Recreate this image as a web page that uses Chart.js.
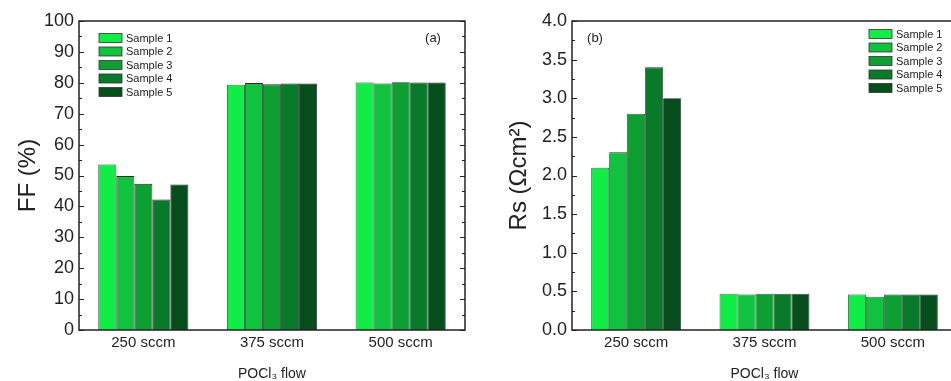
<!DOCTYPE html>
<html lang="en">
<head>
    <meta charset="UTF-8">
    <title>FF and Rs vs POCl3 flow</title>
    <script src="https://cdn.jsdelivr.net/npm/chart.js"></script>
    <style>
        html, body { margin: 0; padding: 0; background: #fff; overflow: hidden; }
        .panel { position: absolute; top: 0; height: 381px; }
        #panelA { left: 0; width: 475px; }
        #panelB { left: 476px; width: 490px; }
    </style>
</head>
<body>
    <div class="panel" id="panelA"><canvas id="chartFF"></canvas></div>
    <div class="panel" id="panelB"><canvas id="chartRs"></canvas></div>

    <script>
        // Data
        const flows = ['250 sccm', '375 sccm', '500 sccm'];
        const samples = ['Sample 1', 'Sample 2', 'Sample 3', 'Sample 4', 'Sample 5'];
        const sampleColors = ['#10ee45', '#10c23e', '#0e9f32', '#087a2a', '#064f1c'];

        // FF (%) per sample, one value per flow
        const ffSample1 = [53.6, 79.4, 80.1];
        const ffSample2 = [49.8, 79.9, 79.8];
        const ffSample3 = [47.3, 79.5, 80.2];
        const ffSample4 = [42.2, 79.8, 80.1];
        const ffSample5 = [47.1, 79.8, 80.1];

        // Rs (Ohm cm2) per sample
        const rsSample1 = [2.10, 0.47, 0.46];
        const rsSample2 = [2.30, 0.46, 0.43];
        const rsSample3 = [2.80, 0.47, 0.46];
        const rsSample4 = [3.40, 0.47, 0.46];
        const rsSample5 = [3.00, 0.47, 0.46];

        const FONT = "'Liberation Sans', Arial, sans-serif";

        function makeDatasets(series) {
            return series.map((vals, i) => ({
                label: samples[i],
                data: vals,
                backgroundColor: sampleColors[i],
                borderColor: '#2a2a2a',
                borderWidth: 0.8,
                borderSkipped: 'bottom',
                barPercentage: 1.0,
                categoryPercentage: 0.70
            }));
        }

        // frame, inward ticks on both sides, inside legend and panel tag
        const framePlugin = {
            id: 'frame',
            afterDraw(chart, args, opts) {
                const ctx = chart.ctx;
                const a = chart.chartArea;
                const y = chart.scales.y;
                ctx.save();
                ctx.strokeStyle = '#222';
                ctx.lineWidth = 1.5;
                ctx.strokeRect(a.left, a.top, a.right - a.left, a.bottom - a.top);

                ctx.lineWidth = 1;
                const steps = Math.round((y.max - y.min) / opts.minorStep);
                for (let k = 0; k <= steps; k++) {
                    const v = y.min + k * opts.minorStep;
                    const py = Math.round(y.getPixelForValue(v)) + 0.5;
                    const len = (k % 2 === 0) ? 5 : 3;
                    ctx.beginPath();
                    ctx.moveTo(a.left, py); ctx.lineTo(a.left + len, py);
                    ctx.moveTo(a.right, py); ctx.lineTo(a.right - len, py);
                    ctx.stroke();
                }

                // legend drawn inside the plot
                ctx.font = '11px ' + FONT;
                ctx.textBaseline = 'middle';
                ctx.textAlign = 'left';
                chart.data.datasets.forEach((ds, i) => {
                    const ly = a.top + opts.legendY + i * 13.5;
                    const lx = a.left + opts.legendX;
                    ctx.fillStyle = ds.backgroundColor;
                    ctx.fillRect(lx, ly - 4.5, 23, 9);
                    ctx.strokeStyle = '#333';
                    ctx.lineWidth = 0.8;
                    ctx.strokeRect(lx, ly - 4.5, 23, 9);
                    ctx.fillStyle = '#222';
                    ctx.fillText(ds.label, lx + 27, ly + 0.5);
                });

                ctx.font = '13px ' + FONT;
                ctx.textAlign = 'center';
                ctx.fillStyle = '#222';
                ctx.fillText(opts.tag, a.left + opts.tagX, a.top + 17);
                ctx.restore();
            }
        };

        function makeChart(id, series, yOpts, frameOpts) {
            return new Chart(document.getElementById(id), {
                type: 'bar',
                data: { labels: flows, datasets: makeDatasets(series) },
                options: {
                    responsive: true,
                    maintainAspectRatio: false,
                    animation: false,
                    layout: { padding: { top: 21, right: frameOpts.padRight, left: 0, bottom: 0 } },
                    plugins: {
                        legend: { display: false },
                        tooltip: { enabled: false },
                        frame: frameOpts
                    },
                    scales: {
                        x: {
                            grid: { display: false, drawTicks: false },
                            border: { display: false },
                            ticks: { color: '#222', font: { family: FONT, size: 15 }, padding: 4 },
                            title: {
                                display: true,
                                text: 'POCl\u2083 flow',
                                color: '#222',
                                font: { family: FONT, size: 14 },
                                padding: { top: 0, bottom: -2 }
                            },
                            afterFit(scale) { scale.height = 51; }
                        },
                        y: {
                            min: 0,
                            max: yOpts.max,
                            grid: { display: false, drawTicks: false },
                            border: { display: false },
                            ticks: {
                                stepSize: yOpts.step,
                                color: '#222',
                                padding: 5,
                                font: { family: FONT, size: 18 },
                                callback: yOpts.fmt
                            },
                            title: {
                                display: true,
                                text: yOpts.title,
                                color: '#222',
                                font: { family: FONT, size: 24 },
                                padding: { top: yOpts.titlePad, bottom: 0 }
                            },
                            afterFit(scale) { scale.width = yOpts.width; }
                        }
                    }
                },
                plugins: [framePlugin]
            });
        }

        makeChart('chartFF',
            [ffSample1, ffSample2, ffSample3, ffSample4, ffSample5],
            { max: 100, step: 10, title: 'FF (%)', titlePad: 14, width: 79, fmt: v => v },
            { minorStep: 5, legendX: 20, legendY: 17, tag: '(a)', tagX: 354, padRight: 10 });

        makeChart('chartRs',
            [rsSample1, rsSample2, rsSample3, rsSample4, rsSample5],
            { max: 4, step: 0.5, title: 'Rs (\u03A9cm\u00B2)', titlePad: 29, width: 96, fmt: v => v.toFixed(1) },
            { minorStep: 0.25, legendX: 297, legendY: 13, tag: '(b)', tagX: 23, padRight: 9 });
    </script>
</body>
</html>
